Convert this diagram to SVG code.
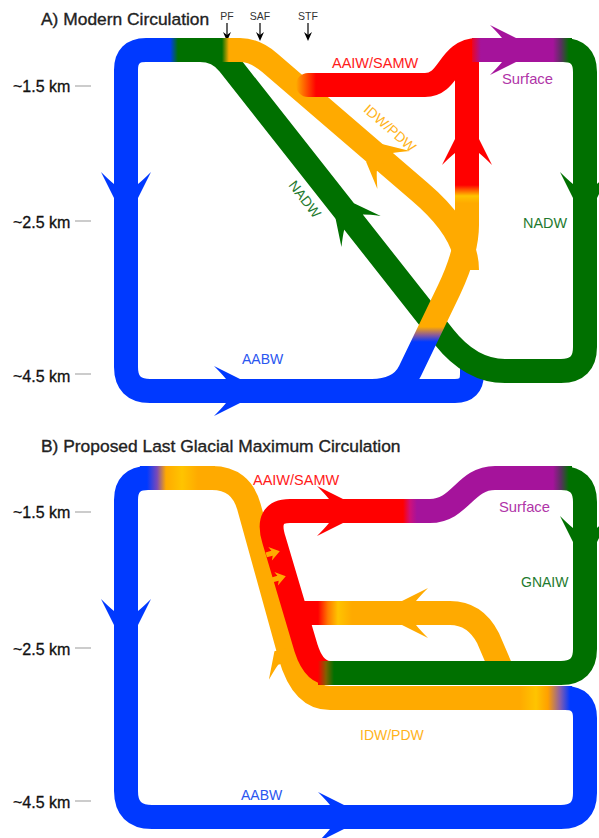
<svg xmlns="http://www.w3.org/2000/svg" width="599" height="838" viewBox="0 0 599 838">
<defs>
<style>
.b{fill:none;stroke-width:24;stroke-linejoin:round}
.t{font-family:"Liberation Sans",Arial,Helvetica,sans-serif}
.ttl{font-size:17.4px;fill:#222;stroke:#222;stroke-width:0.35}
.dep{font-size:16px;fill:#111;stroke:#111;stroke-width:0.3}
.tk{stroke:#999;stroke-width:1}
.fr{font-size:10.5px;fill:#333}
</style>
<path id="arw" d="M0,-12 L-26,-25 Q-18,-17 -14,-12 L-14,12 Q-18,17 -26,25 L0,12 Z"/>
<path id="sarw" d="M-7,-2.5 L-1,-2.5 L-3,-7 L7,0 L-3,7 L-1,2.5 L-7,2.5 Z"/>
<path id="far" d="M0,0 L-4,-9 L0,-6 L4,-9 Z"/>
<linearGradient id="gUpA" gradientUnits="userSpaceOnUse" x1="0" y1="391" x2="0" y2="50">
<stop offset="0.144" stop-color="#0039ff"/><stop offset="0.164" stop-color="#8a5a9a"/><stop offset="0.188" stop-color="#ffaa00"/>
<stop offset="0.551" stop-color="#ffaa00"/><stop offset="0.572" stop-color="#ffc400"/><stop offset="0.604" stop-color="#ff0000"/>
</linearGradient>
<linearGradient id="gRedA" gradientUnits="userSpaceOnUse" x1="296" y1="0" x2="316" y2="0">
<stop offset="0" stop-color="#ffaa00"/><stop offset="0.5" stop-color="#ff5500"/><stop offset="1" stop-color="#ff0000"/>
</linearGradient>
<linearGradient id="gTLA" gradientUnits="userSpaceOnUse" x1="165" y1="0" x2="235" y2="0">
<stop offset="0.071" stop-color="#0039ff"/><stop offset="0.186" stop-color="#007000"/><stop offset="0.814" stop-color="#007000"/><stop offset="0.914" stop-color="#ffaa00"/>
</linearGradient>
<linearGradient id="gTRA" gradientUnits="userSpaceOnUse" x1="460" y1="0" x2="575" y2="0">
<stop offset="0.085" stop-color="#ff0000"/><stop offset="0.18" stop-color="#a5139b"/><stop offset="0.809" stop-color="#a5139b"/><stop offset="0.878" stop-color="#5a3060"/><stop offset="0.948" stop-color="#007000"/>
</linearGradient>
<linearGradient id="gTLB" gradientUnits="userSpaceOnUse" x1="140" y1="0" x2="215" y2="0">
<stop offset="0.093" stop-color="#0039ff"/><stop offset="0.227" stop-color="#7a4ab8"/><stop offset="0.347" stop-color="#ffaa00"/><stop offset="0.56" stop-color="#ffc400"/><stop offset="0.773" stop-color="#ffaa00"/>
</linearGradient>
<linearGradient id="gTRB" gradientUnits="userSpaceOnUse" x1="540" y1="0" x2="575" y2="0">
<stop offset="0.371" stop-color="#a5139b"/><stop offset="0.6" stop-color="#5a3060"/><stop offset="0.829" stop-color="#007000"/>
</linearGradient>
<linearGradient id="gRedB" gradientUnits="userSpaceOnUse" x1="400" y1="0" x2="420" y2="0">
<stop offset="0.15" stop-color="#ff0000"/><stop offset="0.5" stop-color="#d0107a"/><stop offset="0.85" stop-color="#a5139b"/>
</linearGradient>
<linearGradient id="gGrnB" gradientUnits="userSpaceOnUse" x1="316" y1="0" x2="336" y2="0">
<stop offset="0.1" stop-color="#ff0000"/><stop offset="0.5" stop-color="#806000"/><stop offset="0.9" stop-color="#007000"/>
</linearGradient>
<linearGradient id="gBrB" gradientUnits="userSpaceOnUse" x1="316" y1="0" x2="356" y2="0">
<stop offset="0.05" stop-color="#ff0000"/><stop offset="0.3" stop-color="#ff7a00"/><stop offset="0.55" stop-color="#ffc400"/><stop offset="0.9" stop-color="#ffaa00"/>
</linearGradient>
<linearGradient id="gBRB" gradientUnits="userSpaceOnUse" x1="505" y1="0" x2="575" y2="0">
<stop offset="0.214" stop-color="#ffaa00"/><stop offset="0.443" stop-color="#ffc400"/><stop offset="0.614" stop-color="#ffa000"/><stop offset="0.786" stop-color="#8a60a8"/><stop offset="0.929" stop-color="#0039ff"/>
</linearGradient>
</defs>
<rect width="599" height="838" fill="#fff"/>

<g id="panelA-labels" class="t">
<text class="ttl" x="41" y="25">A) Modern Circulation</text>
<text class="fr" x="227" y="20" text-anchor="middle">PF</text>
<text class="fr" x="260" y="20" text-anchor="middle">SAF</text>
<text class="fr" x="308" y="20" text-anchor="middle">STF</text>
<g stroke="#000" stroke-width="1.2"><line x1="227" y1="23" x2="227" y2="38"/><line x1="260" y1="23" x2="260" y2="38"/><line x1="308" y1="23" x2="308" y2="38"/></g>
<use href="#far" transform="translate(227,41)" fill="#000"/>
<use href="#far" transform="translate(260,41)" fill="#000"/>
<use href="#far" transform="translate(308,41)" fill="#000"/>
<text class="dep" x="13" y="92">~1.5 km</text><line class="tk" x1="75" y1="86" x2="91" y2="86"/>
<text class="dep" x="13" y="228">~2.5 km</text><line class="tk" x1="75" y1="221" x2="91" y2="221"/>
<text class="dep" x="13" y="382">~4.5 km</text><line class="tk" x1="75" y1="374" x2="91" y2="374"/>
</g>

<g id="connectors-A">
<g id="aabw-A">
<path class="b" stroke="#0039ff" d="M185,50 H146 Q126,50 126,70 V367 Q126,391 150,391 H455 Q472,391 472,374 V360"/>
<use href="#arw" transform="translate(126,198) rotate(90)" fill="#0039ff"/>
<use href="#arw" transform="translate(240,391)" fill="#0039ff"/>
</g>
<g id="nadw-A">
<path class="b" stroke="#007000" d="M190,50 H200 Q218,50 229,64 L444,337 Q471,371 505,371 H561 Q585,371 585,347 V72 Q585,50 563,50 H550"/>
<use href="#arw" transform="translate(345,211) rotate(231.8)" fill="#007000"/>
<use href="#arw" transform="translate(585,198) rotate(90)" fill="#007000"/>
</g>
<g id="idw-A">
<path class="b" stroke="#ffaa00" d="M226,50 H240 Q255,50 270,63 L420,192 Q467,232 467,270"/>
<use href="#arw" transform="translate(374,153) rotate(220.7)" fill="#ffaa00"/>
</g>
<g id="upwelling-A">
<path class="b" stroke="url(#gUpA)" d="M372,391 Q400.5,391 410,371 L449,290 Q467,252 467,225 V58"/>
<use href="#arw" transform="translate(467,139) rotate(-90)" fill="#ff0000"/>
</g>
<g id="aaiw-A">
<path class="b" stroke="url(#gRedA)" stroke-linecap="round" d="M308,85 H425 C450,85 448,50 478,50"/>
</g>
<path class="b" stroke="url(#gTLA)" d="M165,50 H234"/>
<path class="b" stroke="url(#gTRA)" d="M472,50 H572"/>
<use href="#arw" transform="translate(516,50)" fill="#a5139b"/>
</g>

<g id="labels-A" class="t">
<text x="332" y="68" font-size="14.5" fill="#ff1a1a">AAIW/SAMW</text>
<text x="502" y="84" font-size="14.8" fill="#b035a8">Surface</text>
<text transform="translate(390,128) rotate(41)" text-anchor="middle" y="5" font-size="14" fill="#ffb31a">IDW/PDW</text>
<text transform="translate(305,199) rotate(52)" text-anchor="middle" y="5" font-size="14" fill="#1e7a2e">NADW</text>
<text x="523" y="228" font-size="14.4" fill="#1e7a2e">NADW</text>
<text x="242" y="364" font-size="14" fill="#2a56f0">AABW</text>
</g>

<g id="panelB-labels" class="t">
<text class="ttl" x="41" y="452">B) Proposed Last Glacial Maximum Circulation</text>
<text class="dep" x="13" y="518">~1.5 km</text><line class="tk" x1="75" y1="512" x2="91" y2="512"/>
<text class="dep" x="13" y="655">~2.5 km</text><line class="tk" x1="75" y1="648" x2="91" y2="648"/>
<text class="dep" x="13" y="808">~4.5 km</text><line class="tk" x1="75" y1="801" x2="91" y2="801"/>
</g>

<g id="connectors-B">
<g id="aabw-B">
<path class="b" stroke="#0039ff" d="M565,698 Q585,698 585,718 V793 Q585,817 561,817 H152 Q126,817 126,791 V500 Q126,478 148,478 H165"/>
<use href="#arw" transform="translate(126,625) rotate(90)" fill="#0039ff"/>
<use href="#arw" transform="translate(344,817)" fill="#0039ff"/>
</g>
<g id="idw-B">
<path class="b" stroke="#ffaa00" d="M160,478 H212 Q241,478 249,507 L290,655 Q302,698 330,698 H565"/>
<use href="#arw" transform="translate(286,648) rotate(-105.5)" fill="#ffaa00"/>
</g>
<g id="aaiw-B">
<path class="b" stroke="url(#gRedB)" d="M330,673 Q314,673 306,648 L274,540 Q265,511 290,511 H430 C460,511 465,478 495,478 H555"/>
<use href="#arw" transform="translate(343,511)" fill="#ff0000"/>
</g>
<g id="branch-B">
<path class="b" stroke="url(#gBrB)" d="M298,613 H450 Q475,613 488,638 L500,666"/>
<use href="#arw" transform="translate(402,613) rotate(180)" fill="#ffaa00"/>
</g>
<g id="gnaiw-B">
<path class="b" stroke="url(#gGrnB)" d="M318,673 H561 Q585,673 585,649 V502 Q585,478 561,478 H545"/>
<use href="#arw" transform="translate(585,542) rotate(90)" fill="#007000"/>
</g>
<path class="b" stroke="url(#gTLB)" d="M140,478 H215"/>
<path class="b" stroke="url(#gTRB)" d="M540,478 H572"/>
<path class="b" stroke="url(#gBRB)" d="M505,698 H572"/>
<use href="#sarw" transform="translate(273,553) rotate(-15)" fill="#ffaa00"/>
<use href="#sarw" transform="translate(279,578) rotate(-15)" fill="#ffaa00"/>
</g>

<g id="labels-B" class="t">
<text x="253" y="485" font-size="14.5" fill="#ff1a1a">AAIW/SAMW</text>
<text x="499" y="512" font-size="14.8" fill="#b035a8">Surface</text>
<text x="521" y="587" font-size="14" fill="#1e7a2e">GNAIW</text>
<text x="360" y="740" font-size="14" fill="#ffb31a">IDW/PDW</text>
<text x="241" y="800" font-size="14" fill="#2a56f0">AABW</text>
</g>
</svg>
